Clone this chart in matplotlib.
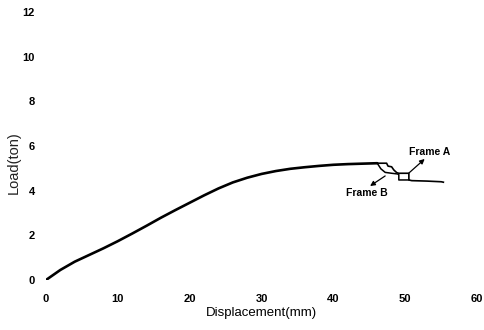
import matplotlib
matplotlib.use("Agg")
import matplotlib.pyplot as plt

# load-displacement curve (common part up to the peak)
disp = [0, 2, 4, 6, 8, 10, 12, 14, 16, 18, 20, 22, 24, 26, 28, 30,
        32, 34, 36, 38, 40, 42, 44, 46.1]
load = [0, 0.45, 0.82, 1.12, 1.42, 1.74, 2.08, 2.43, 2.79, 3.13, 3.46, 3.79,
        4.1, 4.37, 4.58, 4.75, 4.88, 4.98, 5.05, 5.11, 5.16, 5.19, 5.21, 5.23]

# after the peak the two frames split
dispA = [46.1, 47.4, 47.6, 48.1, 48.4, 48.8, 49.1, 50.5, 50.5, 50.9, 53.0, 55.0, 55.3]
loadA = [5.23, 5.23, 5.10, 5.07, 4.93, 4.81, 4.78, 4.78, 4.48, 4.45, 4.43, 4.40, 4.38]
dispB = [46.1, 46.6, 47.2, 48.1, 48.9, 49.1, 49.1, 50.5]
loadB = [5.23, 4.98, 4.82, 4.78, 4.75, 4.72, 4.48, 4.48]

xticks = [0, 10, 20, 30, 40, 50, 60]
yticks = [0, 2, 4, 6, 8, 10, 12]

fnt = ["Liberation Sans", "DejaVu Sans"]

fig = plt.figure(figsize=(4.85, 3.3), dpi=100)
ax = fig.add_axes([0.0948, 0.1515, 0.889, 0.812])

ax.plot(disp, load, color="black", lw=1.9, solid_capstyle="round")
ax.plot(dispA, loadA, color="black", lw=1.2)
ax.plot(dispB, loadB, color="black", lw=1.1)

ax.set_xlim(0, 60)
ax.set_ylim(0, 12)
ax.set_xticks(xticks)
ax.set_yticks(yticks)
for s in ax.spines.values():
    s.set_visible(False)
ax.tick_params(axis="x", length=0, pad=10)
ax.tick_params(axis="y", length=0, pad=8)
for lab in ax.get_xticklabels() + ax.get_yticklabels():
    lab.set_family(fnt)
    lab.set_fontsize(8)
    lab.set_fontweight("bold")

ax.set_xlabel("Displacement(mm)", family=fnt, fontsize=9.5, labelpad=2)
ax.set_ylabel("Load(ton)", family=fnt, fontsize=10.5, color="#222222")
ax.yaxis.set_label_coords(-0.058, 0.437)

ax.text(50.5, 5.73, "Frame A", fontsize=7.5, fontweight="bold", family=fnt,
        ha="left", va="center")
ax.annotate("", xy=(52.7, 5.42), xytext=(50.5, 4.79),
            arrowprops=dict(arrowstyle="-|>", color="black", lw=0.9,
                            mutation_scale=7, shrinkA=0, shrinkB=0))
ax.text(41.7, 3.9, "Frame B", fontsize=7.5, fontweight="bold", family=fnt,
        ha="left", va="center")
ax.annotate("", xy=(45.1, 4.21), xytext=(47.2, 4.66),
            arrowprops=dict(arrowstyle="-|>", color="black", lw=0.9,
                            mutation_scale=7, shrinkA=0, shrinkB=0))

fig.savefig("out.png", dpi=100)
